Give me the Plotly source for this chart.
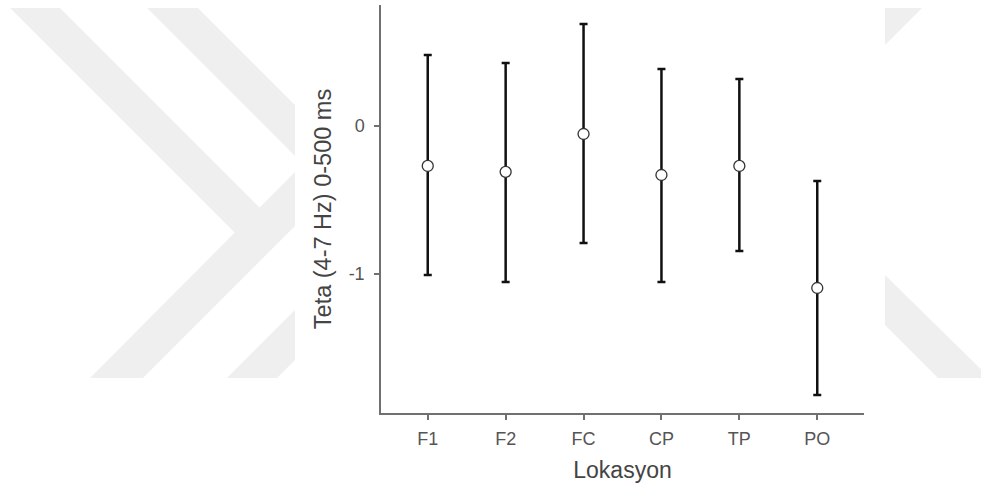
import plotly.graph_objects as go

# ---- data ----
locations = ["F1", "F2", "FC", "CP", "TP", "PO"]
means = [-0.27, -0.31, -0.054, -0.331, -0.27, -1.095]
ci_high = [0.48, 0.426, 0.689, 0.385, 0.318, -0.372]
ci_low = [-1.007, -1.054, -0.79, -1.054, -0.845, -1.818]
y_tickvals = [-1, 0]
y_ticktext = ["-1", "0"]
x_title = "Lokasyon"
y_title = "Teta (4-7 Hz) 0-500 ms"

err_plus = [h - m for h, m in zip(ci_high, means)]
err_minus = [m - l for m, l in zip(means, ci_low)]

W, H = 981, 491
ML, MR, MT, MB = 381, 117, 5, 78
FONT = "Liberation Sans, Arial, sans-serif"

fig = go.Figure()
fig.add_trace(go.Scatter(
    x=locations, y=means, mode="markers",
    error_y=dict(type="data", symmetric=False, array=err_plus, arrayminus=err_minus,
                 color="#111111", thickness=2.5, width=4),
    marker=dict(symbol="circle", size=11, color="white",
                line=dict(color="#333333", width=1.3)),
    showlegend=False, hoverinfo="x+y",
))

# ---- faint background watermark (decoration, pixel -> paper) ----
pw, ph = W - ML - MR, H - MT - MB
def to_paper(pts):
    return "M " + " L ".join(f"{(x - ML) / pw:.5f},{(H - MB - y) / ph:.5f}" for x, y in pts) + " Z"

watermark = [
    [(90, 378), (143, 378), (295, 226), (295, 172)],
    [(10, 8), (60, 8), (271, 219), (246, 244)],
    [(147, 8), (198, 8), (295, 105), (295, 156)],
    [(227, 378), (277, 378), (295, 360), (295, 310)],
    [(885, 8), (922, 8), (885, 45)],
    [(885, 275), (885, 325), (938, 378), (990, 378)],
]
shapes = [dict(type="path", xref="paper", yref="paper", path=to_paper(p),
               fillcolor="#efefef", line=dict(width=0), layer="below") for p in watermark]

fig.update_layout(
    width=W, height=H,
    margin=dict(l=ML, r=MR, t=MT, b=MB, pad=0),
    paper_bgcolor="white", plot_bgcolor="white",
    font=dict(family=FONT, color="#555555"),
    shapes=shapes,
    xaxis=dict(
        type="category", range=[-0.6, 5.6],
        showline=True, linecolor="#707070", linewidth=1.5,
        ticks="outside", ticklen=5, tickwidth=1.5, tickcolor="#707070",
        showgrid=False, zeroline=False,
        tickfont=dict(size=18, color="#555555"), ticklabelstandoff=4,
        title=dict(text=x_title, font=dict(size=23, color="#444444"), standoff=14),
    ),
    yaxis=dict(
        range=[-1.94, 0.818],
        tickvals=y_tickvals, ticktext=y_ticktext,
        showline=True, linecolor="#707070", linewidth=1.5,
        ticks="outside", ticklen=5, tickwidth=1.5, tickcolor="#707070",
        showgrid=False, zeroline=False,
        tickfont=dict(size=18, color="#555555"), ticklabelstandoff=6,
        title=dict(text=y_title, font=dict(size=23.5, color="#444444"), standoff=10),
    ),
)

fig.write_html("out.html")
